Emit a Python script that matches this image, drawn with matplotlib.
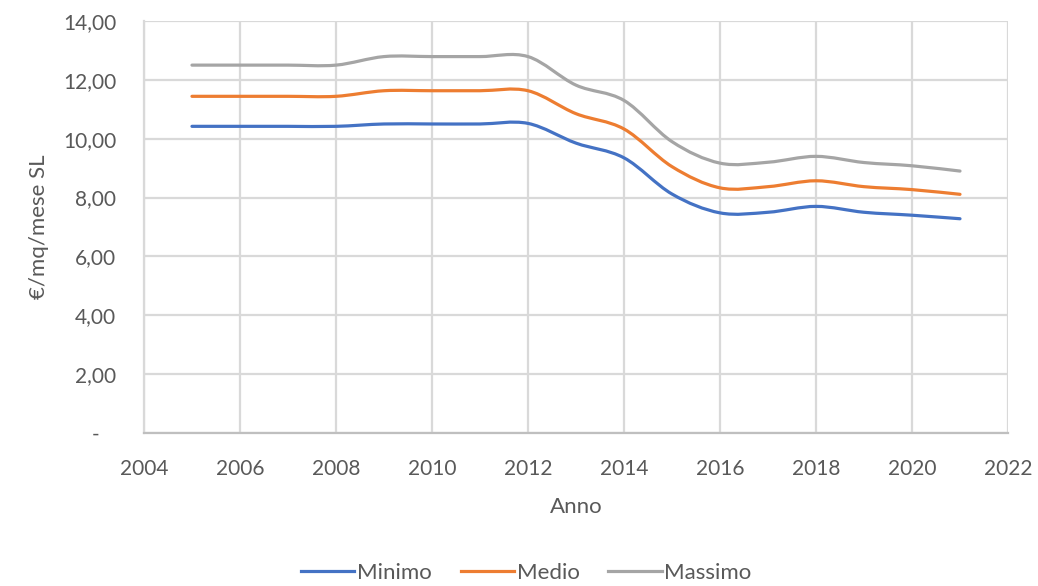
import matplotlib
matplotlib.use("Agg")
import matplotlib.pyplot as plt
import numpy as np
from matplotlib.lines import Line2D
from matplotlib.patches import PathPatch
from matplotlib.path import Path
from matplotlib.ticker import FuncFormatter, MultipleLocator

plt.rcParams["font.family"] = ["Lato", "DejaVu Sans"]

years = list(range(2005, 2022))
minimo = [10.42, 10.42, 10.42, 10.42, 10.50, 10.50, 10.50, 10.52,
          9.85, 9.35, 8.12, 7.48, 7.50, 7.70, 7.50, 7.40, 7.28]
medio = [11.44, 11.44, 11.44, 11.44, 11.63, 11.63, 11.63, 11.63,
         10.85, 10.33, 9.05, 8.33, 8.37, 8.57, 8.37, 8.27, 8.11]
massimo = [12.50, 12.50, 12.50, 12.50, 12.79, 12.79, 12.79, 12.79,
           11.82, 11.30, 9.90, 9.17, 9.20, 9.40, 9.19, 9.08, 8.90]

series = [("Minimo", minimo, "#4472C4"),
          ("Medio", medio, "#ED7D31"),
          ("Massimo", massimo, "#A5A5A5")]

TEXT = "#595959"
GRID = "#D9D9D9"


def smooth_path(x, y):
    # cubic bezier through every point, tangents from neighbouring points
    pts = np.column_stack([x, y]).astype(float)
    n = len(pts)
    verts = [pts[0]]
    codes = [Path.MOVETO]
    for i in range(n - 1):
        p0 = pts[max(i - 1, 0)]
        p1 = pts[i]
        p2 = pts[i + 1]
        p3 = pts[min(i + 2, n - 1)]
        verts += [p1 + (p2 - p0) / 6, p2 - (p3 - p1) / 6, p2]
        codes += [Path.CURVE4] * 3
    return Path(verts, codes)


fig = plt.figure(figsize=(10.38, 5.86), dpi=100)
ax = fig.add_axes([0.1387, 0.2611, 0.8324, 0.7031])

handles = []
for name, values, color in series:
    patch = PathPatch(smooth_path(years, values), fill=False, edgecolor=color,
                      linewidth=2.3, capstyle="round", joinstyle="round", zorder=3)
    ax.add_patch(patch)
    handles.append(Line2D([], [], color=color, linewidth=2.3, label=name))

ax.set_xlim(2004, 2022)
ax.set_ylim(0, 14)
ax.xaxis.set_major_locator(MultipleLocator(2))
ax.yaxis.set_major_locator(MultipleLocator(2))
ax.yaxis.set_major_formatter(FuncFormatter(
    lambda v, _: "-   " if abs(v) < 1e-9 else f"{v:.2f}".replace(".", ",")))

ax.grid(True, color=GRID, linewidth=1.6, zorder=0)
ax.set_axisbelow(True)
for side in ["top", "right"]:
    ax.spines[side].set_visible(False)
ax.spines["left"].set_color(GRID)
ax.spines["left"].set_linewidth(1.6)
ax.spines["bottom"].set_color("#BFBFBF")
ax.spines["bottom"].set_linewidth(1.6)
ax.tick_params(length=0, labelsize=15, labelcolor=TEXT)
ax.tick_params(axis="y", pad=20)
ax.tick_params(axis="x", pad=19)

ax.set_xlabel("Anno", fontsize=16, color=TEXT, labelpad=13)
ax.set_ylabel("€/mq/mese SL", fontsize=16, color=TEXT, labelpad=10)

fig.legend(handles=handles, loc="center", bbox_to_anchor=(0.507, 0.022), ncol=3,
           frameon=False, fontsize=16, labelcolor=TEXT, handlelength=2.4,
           handletextpad=0.12, columnspacing=1.3)

fig.savefig("out.png", dpi=100, facecolor="white")
